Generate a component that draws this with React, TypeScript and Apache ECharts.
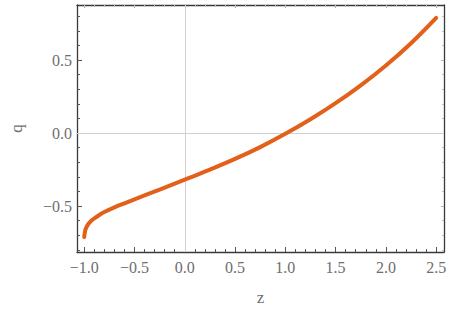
import React, { useEffect, useRef } from "react";
import * as echarts from "echarts";

const zValues = [-1.0, -0.99, -0.98, -0.965, -0.95, -0.925, -0.9, -0.85, -0.8, -0.7, -0.6, -0.5, -0.25, 0.0, 0.25, 0.5, 0.75, 1.0, 1.25, 1.5, 1.75, 2.0, 2.25, 2.5];
const qValues = [-0.713, -0.667, -0.648, -0.629, -0.615, -0.598, -0.584, -0.561, -0.541, -0.509, -0.481, -0.454, -0.387, -0.319, -0.25, -0.177, -0.096, -0.005, 0.095, 0.205, 0.327, 0.463, 0.616, 0.79];

const xMajor = [-1.0, -0.5, 0.0, 0.5, 1.0, 1.5, 2.0, 2.5];
const yMajor = [-0.5, 0.0, 0.5];
const xMinorSteps = Array.from({ length: 36 }, (_, i) => Math.round((-1.0 + i * 0.1) * 10) / 10);
const yMinorSteps = Array.from({ length: 17 }, (_, i) => Math.round((-0.8 + i * 0.1) * 10) / 10);

const X_MIN = -1.072;
const X_MAX = 2.578;
const Y_MIN = -0.815;
const Y_MAX = 0.878;

const fmt = (v: number) => {
  const s = Math.abs(v).toFixed(1);
  return v < -1e-9 ? "\u2212" + s : s;
};

const FONT = "'Liberation Serif', 'Times New Roman', serif";
const LABEL_COLOR = "#6e6e6e";
const FRAME = "#3a3a3a";
const TICK = "#555";

export default function App() {
  const ref = useRef<HTMLDivElement>(null);
  useEffect(() => {
    if (!ref.current) return;
    const chart = echarts.init(ref.current, undefined, { renderer: "svg" });
    const xBase = (position: string, extra: any) => ({
      type: "value",
      position,
      min: X_MIN,
      max: X_MAX,
      splitLine: { show: false },
      axisLabel: { show: false },
      axisLine: { show: false, onZero: false },
      ...extra,
    });
    const yBase = (position: string, extra: any) => ({
      type: "value",
      position,
      min: Y_MIN,
      max: Y_MAX,
      splitLine: { show: false },
      axisLabel: { show: false },
      axisLine: { show: false, onZero: false },
      ...extra,
    });
    chart.setOption({
      animation: false,
      textStyle: { fontFamily: FONT },
      grid: { left: 67, right: 6, top: 5, bottom: 55, containLabel: false },
      xAxis: [
        xBase("bottom", {
          name: "z",
          nameLocation: "middle",
          nameGap: 37,
          nameTextStyle: { fontFamily: FONT, fontSize: 17, color: LABEL_COLOR },
          axisLine: { show: true, onZero: false, lineStyle: { color: FRAME, width: 1.3 } },
          axisTick: { show: true, inside: true, length: 5, customValues: xMajor, lineStyle: { color: TICK } },
          axisLabel: {
            show: true,
            customValues: xMajor,
            formatter: fmt,
            margin: 7,
            fontFamily: FONT,
            fontSize: 16,
            color: LABEL_COLOR,
          },
        }),
        xBase("bottom", {
          axisTick: { show: true, inside: true, length: 3, customValues: xMinorSteps, lineStyle: { color: TICK } },
        }),
        xBase("top", {
          axisLine: { show: true, onZero: false, lineStyle: { color: FRAME, width: 1.3 } },
          axisTick: { show: true, inside: true, length: 3, customValues: xMajor, lineStyle: { color: "#aaa" } },
        }),
        xBase("top", {
          axisTick: { show: true, inside: true, length: 2, customValues: xMinorSteps, lineStyle: { color: "#bbb" } },
        }),
      ],
      yAxis: [
        yBase("left", {
          name: "q",
          nameLocation: "middle",
          nameGap: 52,
          nameRotate: 90,
          nameTextStyle: { fontFamily: FONT, fontSize: 17, color: LABEL_COLOR },
          axisLine: { show: true, onZero: false, lineStyle: { color: FRAME, width: 1.3 } },
          axisTick: { show: true, inside: true, length: 5, customValues: yMajor, lineStyle: { color: TICK } },
          axisLabel: {
            show: true,
            customValues: yMajor,
            formatter: fmt,
            margin: 5,
            fontFamily: FONT,
            fontSize: 16,
            color: LABEL_COLOR,
          },
        }),
        yBase("left", {
          axisTick: { show: true, inside: true, length: 3, customValues: yMinorSteps, lineStyle: { color: TICK } },
        }),
        yBase("right", {
          axisLine: { show: true, onZero: false, lineStyle: { color: FRAME, width: 1.3 } },
          axisTick: { show: true, inside: true, length: 3, customValues: yMajor, lineStyle: { color: "#aaa" } },
        }),
        yBase("right", {
          axisTick: { show: true, inside: true, length: 2, customValues: yMinorSteps, lineStyle: { color: "#bbb" } },
        }),
      ],
      series: [
        {
          type: "line",
          xAxisIndex: 0,
          yAxisIndex: 0,
          data: zValues.map((z, i) => [z, qValues[i]]),
          smooth: 0.4,
          symbol: "none",
          lineStyle: { color: "#E2601A", width: 4, cap: "round" },
          z: 5,
          markLine: {
            silent: true,
            symbol: "none",
            label: { show: false },
            lineStyle: { color: "#d0d0d0", width: 1, type: "solid" },
            data: [{ xAxis: 0 }, { yAxis: 0 }],
            z: 1,
          },
        },
      ],
    });
    return () => chart.dispose();
  }, []);
  return (
    <div
      ref={ref}
      style={{ position: "fixed", left: 0, top: 0, width: 450, height: 311, background: "#fff" }}
    />
  );
}
